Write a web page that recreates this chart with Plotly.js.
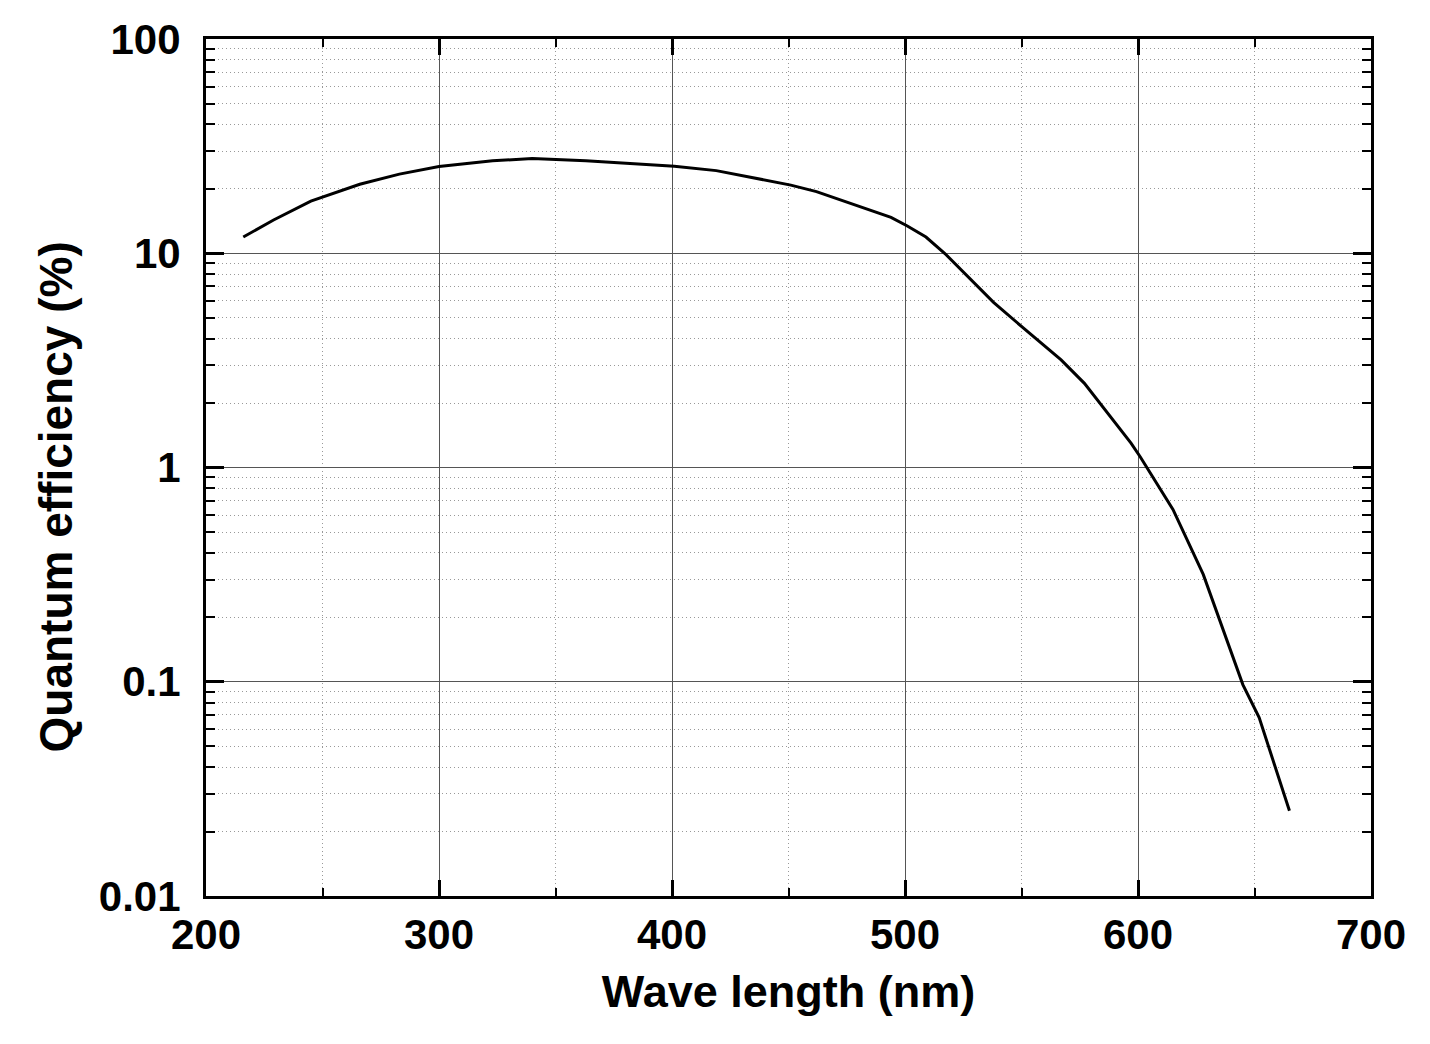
<!DOCTYPE html>
<html>
<head>
<meta charset="utf-8">
<script src="https://cdn.plot.ly/plotly-3.0.1.min.js"></script>
<style>html,body{margin:0;padding:0;background:#fff;}#chart{width:1430px;height:1044px;}</style>
</head>
<body>
<div id="chart"></div>
<script>
const wavelength = [216, 229, 245, 266, 283, 300, 323, 340, 363, 401, 419, 451, 462, 494, 501, 509, 517, 538, 551, 567, 577, 597, 601, 615, 628, 645, 652, 665];
const efficiency = [11.9, 14.3, 17.5, 21.0, 23.4, 25.4, 27.0, 27.7, 27.0, 25.5, 24.3, 20.8, 19.4, 14.7, 13.4, 11.9, 10.0, 5.9, 4.46, 3.18, 2.47, 1.30, 1.12, 0.637, 0.317, 0.097, 0.068, 0.025];
const xTickVals = [200, 300, 400, 500, 600, 700];
const xTickText = ['200', '300', '400', '500', '600', '700'];
const yTickVals = [0.01, 0.1, 1, 10, 100];
const yTickText = ['0.01', '0.1', '1', '10', '100'];
const xTitle = 'Wave length (nm)';
const yTitle = 'Quantum efficiency (%)';

const font = {family: 'Arial, "Liberation Sans", sans-serif', color: '#000', weight: 'bold'};

const trace = {
  x: wavelength, y: efficiency, type: 'scatter', mode: 'lines',
  line: {color: '#000', width: 3}, hoverinfo: 'skip'
};

const layout = {
  width: 1430, height: 1044,
  margin: {l: 206, r: 59, t: 39, b: 148},
  paper_bgcolor: '#fff', plot_bgcolor: '#fff',
  showlegend: false,
  font: Object.assign({size: 42}, font),
  xaxis: {
    range: [200, 700], tickmode: 'array', tickvals: xTickVals, ticktext: xTickText,
    ticks: 'inside', ticklen: 16, tickwidth: 3, tickcolor: '#000',
    showline: true, linewidth: 3, linecolor: '#000', mirror: 'ticks',
    showgrid: true, gridcolor: '#555', gridwidth: 1, zeroline: false,
    tickfont: Object.assign({size: 42}, font),
    ticklabelstandoff: 0,
    minor: {dtick: 50, ticks: 'inside', ticklen: 8, tickwidth: 2, tickcolor: '#000', showgrid: true, gridcolor: '#999', griddash: '1px,3px', gridwidth: 1},
    title: {text: xTitle, font: Object.assign({size: 45}, font), standoff: 19}
  },
  yaxis: {
    type: 'log', range: [-2, 2], tickmode: 'array', tickvals: yTickVals, ticktext: yTickText,
    ticks: 'inside', ticklen: 18, tickwidth: 3, tickcolor: '#000',
    showline: true, linewidth: 3, linecolor: '#000', mirror: 'ticks',
    showgrid: true, gridcolor: '#555', gridwidth: 1, zeroline: false,
    tickfont: Object.assign({size: 42}, font),
    ticklabelstandoff: 14,
    minor: {dtick: 'D1', ticks: 'inside', ticklen: 9, tickwidth: 2, tickcolor: '#000', showgrid: true, gridcolor: '#999', griddash: '1px,3px', gridwidth: 1}
  },
  annotations: [{
    text: yTitle, textangle: -90, showarrow: false,
    xref: 'paper', yref: 'paper', x: 0, y: 0.465,
    xanchor: 'center', yanchor: 'middle', xshift: -150,
    font: Object.assign({size: 46}, font)
  }]
};

Plotly.newPlot('chart', [trace], layout, {displayModeBar: false, staticPlot: true});
</script>
</body>
</html>
